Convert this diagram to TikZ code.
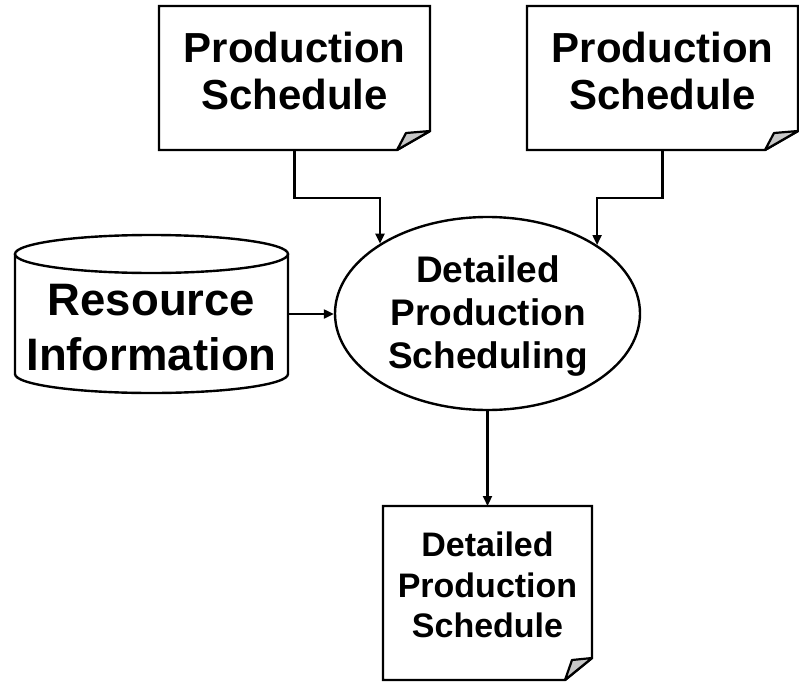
\documentclass[tikz,border=0pt]{standalone}
\usepackage{fontspec}
\setmainfont{Liberation Sans}
\usetikzlibrary{shapes.geometric,arrows.meta,calc}
\newcommand\DocOutline[5]{%
  \draw[fill=white] (#1.north west) -- (#1.north east) -- ([yshift=#3pt]#1.south east)
     -- ([xshift=-#2pt]#1.south east) -- (#1.south west) -- cycle;
  \draw[flap] ([xshift=-#2pt]#1.south east) -- ([xshift=-#4pt,yshift=#5pt]#1.south east)
     -- ([yshift=#3pt]#1.south east) -- cycle;}
\begin{document}
\begin{tikzpicture}[x=1pt,y=-1pt,line width=2.4pt,
  conn/.style={line width=2.2pt,-{Triangle[length=10pt,width=9pt]}},
  shapebox/.style={rectangle,inner sep=0pt,outer sep=0pt},
  lbl/.style={inner sep=0pt,align=center},
  flap/.style={fill=black!22,line width=2.2pt,line join=round}]
\useasboundingbox (0,0) rectangle (799,682);

% documents
\node[shapebox,minimum width=271pt,minimum height=144pt] (d1) at (294.5,78) {};
\node[shapebox,minimum width=271pt,minimum height=144pt] (d2) at (662.5,78) {};
\node[shapebox,minimum width=209pt,minimum height=174pt] (d3) at (487.5,593) {};
\DocOutline{d1}{33}{19}{24}{17}
\DocOutline{d2}{33}{19}{24}{17}
\DocOutline{d3}{27}{22}{20}{20}

% cylinder
\node[shapebox,minimum width=273pt,minimum height=158pt] (res) at (151.5,314) {};
\draw ([yshift=-19pt]res.north west) -- ([yshift=19pt]res.south west)
   arc[start angle=180,end angle=360,x radius=136.5pt,y radius=19pt]
   -- ([yshift=-19pt]res.north east);
\draw ([yshift=-19pt]res.north) ellipse[x radius=136.5pt,y radius=19pt];

% process
\node[draw,ellipse,minimum width=305pt,minimum height=193pt,inner sep=0pt] (ell) at (487.5,313.5) {};

% labels
\node[lbl,font=\bfseries\fontsize{42}{47}\selectfont] (t1) at (294.5,71.4) {Production\\Schedule};
\node[lbl,font=\bfseries\fontsize{42}{47}\selectfont] (t2) at (662.5,71.4) {Production\\Schedule};
\node[lbl,font=\bfseries\fontsize{45.5}{55}\selectfont] (t4) at (151.5,328) {Resource\\Information};
\node[lbl,font=\bfseries\fontsize{37}{43}\selectfont] (t3) at (488,316.5) {Detailed\\Production\\Scheduling};
\node[lbl,font=\bfseries\fontsize{34}{40.5}\selectfont] (t5) at (487.5,585) {Detailed\\Production\\Schedule};

% connectors
\draw[conn] (d1.south) -- ++(0,48) -| (ell.147.5);
\draw[conn] (d2.south) -- ++(0,48) -| (ell.32.5);
\draw[conn] (res.east) -- (res.east -| ell.west);
\draw[conn] (ell.south) -- (d3.north);
\end{tikzpicture}
\end{document}
